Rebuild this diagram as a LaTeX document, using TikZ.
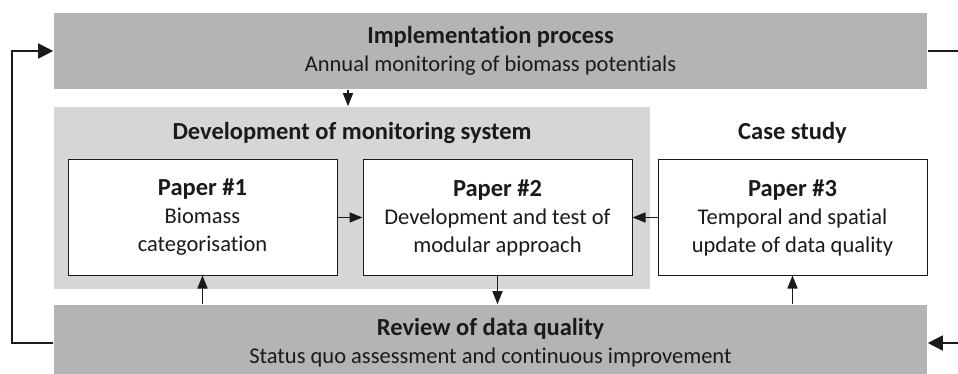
\documentclass[tikz,border=0pt]{standalone}
\usepackage{fontspec}
\setmainfont{Carlito}[Ligatures=NoCommon]
\usetikzlibrary{arrows.meta, positioning, calc}
\definecolor{bargray}{RGB}{179,180,182}
\definecolor{panelgray}{RGB}{213,214,216}
\definecolor{inkgray}{RGB}{26,26,26}
\newcommand{\Head}[1]{{\fontsize{24.5}{28}\selectfont\bfseries #1}}
\tikzset{
  every picture/.style={line width=1.6pt},
  every node/.style={font=\fontsize{22.5}{28}\selectfont, text=inkgray, align=center},
  bar/.style={fill=bargray, minimum width=873pt, minimum height=76pt, inner sep=0pt},
  panel/.style={fill=panelgray, minimum width=596pt, minimum height=182pt, inner sep=0pt},
  paper/.style={draw=inkgray, line width=1pt, fill=white, minimum width=269pt, minimum height=115pt, inner sep=0pt},
  flow/.style={draw=inkgray, -{Triangle[length=13pt, width=10pt]}},
  bigflow/.style={draw=inkgray, -{Triangle[length=15pt, width=15pt]}}
}

\begin{document}
\begin{tikzpicture}[x=1pt, y=-1pt]
    \useasboundingbox (0,0) rectangle (958,374);
    \clip (0,0) rectangle (958,374);

    \node [bar] (impl) at (490.5,51) {\Head{Implementation process}\\Annual monitoring of biomass potentials};
    \node [panel] (devsys) at (352,198) {};
    \node (devtitle) at (352,133) {\Head{Development of monitoring system}};
    \node (casetitle) at (792.5,133) {\Head{Case study}};

    \node [paper] (p1) at (202.5,217.5) {\Head{Paper \#1}\\Biomass\\categorisation};
    \node [paper] (p2) at (497.5,217.5) {\Head{Paper \#2}\\Development and test of\\modular approach};
    \node [paper] (p3) at (792.5,217.5) {\Head{Paper \#3}\\Temporal and spatial\\update of data quality};

    \node [bar] (review) at (490.5,343) {\Head{Review of data quality}\\Status quo assessment and continuous improvement};

    \coordinate (loopl) at (12,200);
    \coordinate (edge) at (958,200);

    \draw [flow] ($(impl.south)+(-142.5,0)$) -- ($(devsys.north)+(-4,0)$);
    \draw [flow] (p1) -- (p2);
    \draw [flow] (p3) -- (p2);
    \draw [flow] (review.north -| p1.south) -- (p1.south);
    \draw [flow] (p2.south) -- (review.north -| p2.south);
    \draw [flow] (review.north -| p3.south) -- (p3.south);

    \draw [bigflow] (review.west) -| (loopl) |- (impl.west);
    \draw [draw=inkgray] (impl.east) -- (impl.east -| edge);
    \draw [bigflow] (review.east -| edge) -- (review.east);
\end{tikzpicture}
\end{document}
